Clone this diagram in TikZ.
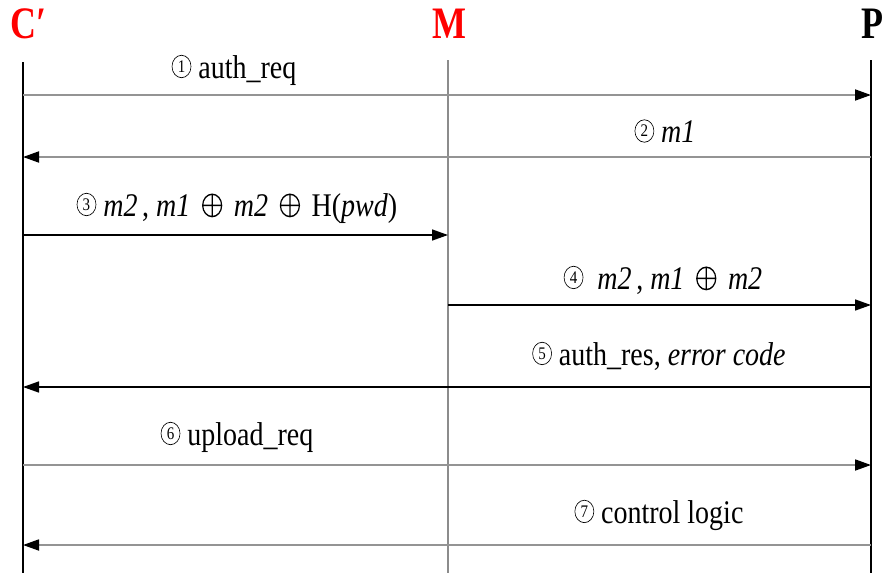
\documentclass[tikz,border=0pt]{standalone}
\usepackage{fontspec}
\setmainfont{Liberation Serif}
\usetikzlibrary{arrows.meta}
\newcommand{\cnum}[1]{\tikz[baseline=(d.south)]\node[draw,circle,line width=0.6pt,inner sep=0pt,minimum size=19pt,font=\fontsize{15}{15}\selectfont](d){#1};}
\newcommand{\xo}{\,\tikz[baseline={(xob)}]{\coordinate (xob) at (0pt,-9pt);\draw[line width=1.2pt] (0pt,0pt) circle[radius=9.5pt] (-9.5pt,0pt)--(9.5pt,0pt) (0pt,-9.5pt)--(0pt,9.5pt);}\,}
\begin{document}
\begin{tikzpicture}[x=1pt,y=-1pt,
  lifeline/.style={line width=1.3pt},
  msg/.style={line width=1.8pt,draw=black!42,-{Triangle[length=16pt,width=11pt,color=black]}},
  msgdark/.style={line width=1.5pt,draw=black,-{Triangle[length=16pt,width=11pt,color=black]}},
  lbl/.style={font=\fontsize{28}{30}\selectfont,yscale=1.18,inner sep=0pt},
  head/.style={font=\fontsize{36}{40}\selectfont\bfseries,yscale=1.25,inner sep=0pt}]
\useasboundingbox (0,0) rectangle (883,573);
\clip (0,0) rectangle (883,573);
% headers
\node[head,text=red] (hc) at (29,24) {C′};
\node[head,text=red] (hm) at (449,24) {M};
\node[head] (hp) at (872,24) {P};
% lifelines
\coordinate (ct) at (23,62); \coordinate (cb) at (23,573);
\coordinate (mt) at (448,60); \coordinate (mb) at (448,573);
\coordinate (pt) at (871,60); \coordinate (pb) at (871,573);
\draw[lifeline] (ct) -- (cb);
\draw[lifeline,draw=black!45] (mt) -- (mb);
\draw[lifeline] (pt) -- (pb);
% message end points
\foreach \n/\y in {1/95,2/157,3/235,4/305,5/387,6/465,7/545}{
  \coordinate (c\n) at (23,\y);
  \coordinate (m\n) at (448,\y);
  \coordinate (p\n) at (871,\y);
}
\draw[msg] (c1) -- (p1);
\draw[msg] (p2) -- (c2);
\draw[msgdark] (c3) -- (m3);
\draw[msgdark] (m4) -- (p4);
\draw[msgdark] (p5) -- (c5);
\draw[msg] (c6) -- (p6);
\draw[msg] (p7) -- (c7);
% labels
\node[lbl] (l1) at (234,70) {\cnum{1} auth\_req};
\node[lbl] (l2) at (665,131) {\cnum{2} \textit{m1}};
\node[lbl] (l3) at (237,208) {\cnum{3} \textit{m2}\,, \textit{m1} \xo\ \textit{m2} \xo\ H(\textit{pwd})};
\node[lbl] (l4) at (663,280) {\cnum{4} \ \textit{m2}\,, \textit{m1} \xo\ \textit{m2}};
\node[lbl] (l5) at (659,356) {\cnum{5} auth\_res, \textit{error code}};
\node[lbl] (l6) at (237,437) {\cnum{6} upload\_req};
\node[lbl] (l7) at (659,515) {\cnum{7} control logic};
\end{tikzpicture}
\end{document}
